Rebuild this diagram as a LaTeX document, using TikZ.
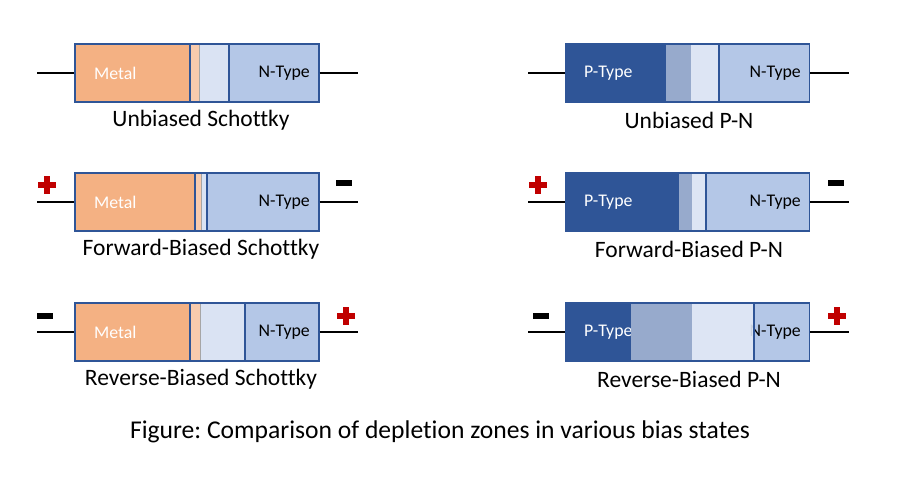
\documentclass[tikz,border=0pt]{standalone}
\usepackage{fontspec}
\setmainfont[Ligatures={NoCommon}]{Carlito}
\usetikzlibrary{positioning}
\frenchspacing

\definecolor{metalc}{HTML}{F4B183}
\definecolor{stripc}{HTML}{F8CBAD}
\definecolor{deplc}{HTML}{DAE3F3}
\definecolor{ntypec}{HTML}{B4C7E7}
\definecolor{ptypec}{HTML}{2F5597}
\definecolor{midc}{HTML}{97AACC}
\definecolor{borderc}{HTML}{2F5597}
\definecolor{plusc}{HTML}{C00000}

\newcommand{\plusmark}[2]{%
  \fill[plusc] (#1-9,#2-3) rectangle (#1+9,#2+3);
  \fill[plusc] (#1-3,#2-9) rectangle (#1+3,#2+9);}
\newcommand{\minusmark}[2]{%
  \fill[black] (#1-8,#2-3) rectangle (#1+8,#2+3);}

\tikzset{
  devbox/.style={draw=borderc, line width=1.2pt, minimum width=244pt,
    minimum height=58pt, inner sep=0pt},
  sep/.style={draw=borderc, line width=1.2pt},
  inlbl/.style={font=\fontsize{17.8}{20}\selectfont, inner sep=0pt},
  caplbl/.style={font=\fontsize{23.5}{26}\selectfont, inner sep=0pt},
  wire/.style={line width=1.3pt}
}

\begin{document}
\begin{tikzpicture}[x=1pt,y=-1pt]
  \useasboundingbox (0,0) rectangle (900,490);

  % Schottky column
  \foreach \t/\m/\s/\l/\lab [count=\i] in
    {44/190/199/229/Unbiased, 173/195/201/207/Forward-Biased, 303/190/200/245/Reverse-Biased}{
    \fill[metalc] (75,\t) rectangle (\m,\t+58);
    \fill[stripc] (\m,\t) rectangle (\s,\t+58);
    \fill[deplc] (\s,\t) rectangle (\l,\t+58);
    \fill[ntypec] (\l,\t) rectangle (319,\t+58);
    \draw[gray!70, line width=1pt] (\s,\t) -- (\s,\t+58);
    \draw[sep] (\m,\t) -- (\m,\t+58);
    \draw[sep] (\l,\t) -- (\l,\t+58);
    \node[devbox] (s\i) at (197,\t+29) {};
    \node[inlbl, white, anchor=west] (s\i m) at (94,\t+29) {Metal};
    \node[inlbl, anchor=east] (s\i n) at (310,\t+29) {N-Type};
    \coordinate (s\i a) at (37,\t+29);
    \coordinate (s\i b) at (358,\t+29);
    \draw[wire] (s\i a) -- (s\i.west);
    \draw[wire] (s\i.east) -- (s\i b);
    \node[caplbl] (s\i c) at (201,\t+76) {\lab\ Schottky};
  }

  % P-N column
  \foreach \t/\m/\s/\l/\lab [count=\i] in
    {44/666/691/719/Unbiased, 173/679/692/706/Forward-Biased, 303/631/692/754/Reverse-Biased}{
    \fill[ptypec] (566,\t) rectangle (\m,\t+58);
    \fill[ntypec] (\l,\t) rectangle (809,\t+58);
    \node[inlbl, white, anchor=west] (p\i p) at (584,\t+29) {P-Type};
    \node[inlbl, anchor=east] (p\i n) at (801,\t+29) {N-Type};
    \fill[midc] (\m,\t) rectangle (\s,\t+58);
    \fill[deplc, opacity=0.92] (\s,\t) rectangle (\l,\t+58);
    \draw[sep] (\l,\t) -- (\l,\t+58);
    \node[devbox] (p\i) at (687.5,\t+29) {};
    \coordinate (p\i a) at (528,\t+29);
    \coordinate (p\i b) at (849,\t+29);
    \draw[wire] (p\i a) -- (p\i.west);
    \draw[wire] (p\i.east) -- (p\i b);
    \node[caplbl] (p\i c) at (689,\t+76) {\lab\ P-N};
  }

  % bias signs
  \plusmark{47}{185}  \minusmark{344}{183}
  \minusmark{45}{316} \plusmark{346}{316}
  \plusmark{538}{185} \minusmark{836}{183}
  \minusmark{541}{316} \plusmark{837}{316}

  \node[font=\fontsize{25.6}{30}\selectfont, inner sep=0pt] (fig) at (440,432)
    {Figure: Comparison of depletion zones in various bias states};
\end{tikzpicture}
\end{document}
